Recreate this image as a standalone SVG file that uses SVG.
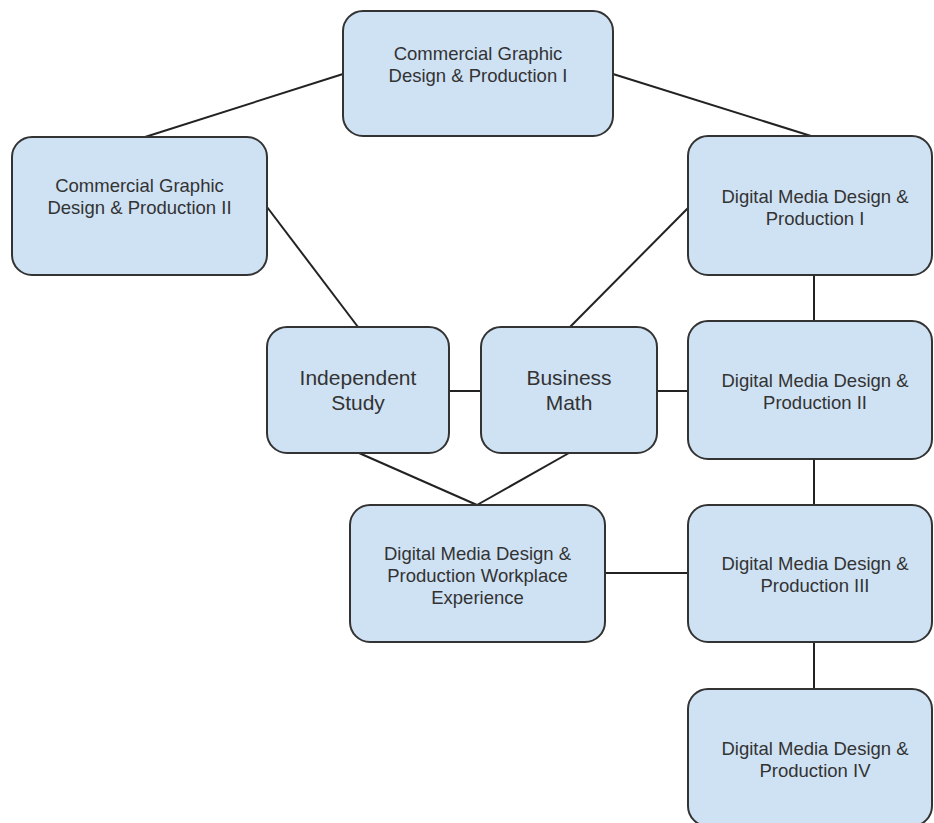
<svg xmlns="http://www.w3.org/2000/svg" width="934" height="823" viewBox="0 0 934 823">
<style>
.box{fill:#cfe2f3;stroke:#333;stroke-width:2}
.t{font-family:"Liberation Sans",Arial,sans-serif;font-size:18.5px;fill:#333;text-anchor:middle}
.tl{font-family:"Liberation Sans",Arial,sans-serif;font-size:21px;fill:#333;text-anchor:middle}
.c{stroke:#222;stroke-width:2;fill:none}
</style>
<rect width="934" height="823" fill="#fff"/>
<g id="connectors">
<line class="c" x1="343" y1="74" x2="145" y2="137"/>
<line class="c" x1="613" y1="74" x2="811" y2="136"/>
<line class="c" x1="267" y1="207" x2="358" y2="327"/>
<line class="c" x1="688" y1="208" x2="570" y2="327"/>
<line class="c" x1="814" y1="275" x2="814" y2="321"/>
<line class="c" x1="449" y1="391" x2="481" y2="391"/>
<line class="c" x1="657" y1="391" x2="688" y2="391"/>
<line class="c" x1="359" y1="453" x2="477" y2="505"/>
<line class="c" x1="569" y1="453" x2="477" y2="505"/>
<line class="c" x1="814" y1="459" x2="814" y2="505"/>
<line class="c" x1="605" y1="573" x2="688" y2="573"/>
<line class="c" x1="814" y1="642" x2="814" y2="689"/>
</g>
<g id="cgd1">
<rect class="box" x="343" y="11" width="270" height="125" rx="20"/>
<text class="t" x="478" y="60">Commercial Graphic</text>
<text class="t" x="478" y="82">Design &amp; Production I</text>
</g>
<g id="cgd2">
<rect class="box" x="12" y="137" width="255" height="138" rx="20"/>
<text class="t" x="139.5" y="192">Commercial Graphic</text>
<text class="t" x="139.5" y="214">Design &amp; Production II</text>
</g>
<g id="dmd1">
<rect class="box" x="688" y="136" width="244" height="139" rx="20"/>
<text class="t" x="815" y="203">Digital Media Design &amp;</text>
<text class="t" x="815" y="225">Production I</text>
</g>
<g id="independent">
<rect class="box" x="267" y="327" width="182" height="126" rx="20"/>
<text class="tl" x="358" y="385">Independent</text>
<text class="tl" x="358" y="410">Study</text>
</g>
<g id="bizmath">
<rect class="box" x="481" y="327" width="176" height="126" rx="20"/>
<text class="tl" x="569" y="385">Business</text>
<text class="tl" x="569" y="410">Math</text>
</g>
<g id="dmd2">
<rect class="box" x="688" y="321" width="244" height="138" rx="20"/>
<text class="t" x="815" y="387">Digital Media Design &amp;</text>
<text class="t" x="815" y="409">Production II</text>
</g>
<g id="workplace">
<rect class="box" x="350" y="505" width="255" height="137" rx="20"/>
<text class="t" x="477.5" y="560">Digital Media Design &amp;</text>
<text class="t" x="477.5" y="582">Production Workplace</text>
<text class="t" x="477.5" y="604">Experience</text>
</g>
<g id="dmd3">
<rect class="box" x="688" y="505" width="244" height="137" rx="20"/>
<text class="t" x="815" y="570">Digital Media Design &amp;</text>
<text class="t" x="815" y="592">Production III</text>
</g>
<g id="dmd4">
<rect class="box" x="688" y="689" width="244" height="137" rx="20"/>
<text class="t" x="815" y="755">Digital Media Design &amp;</text>
<text class="t" x="815" y="777">Production IV</text>
</g>
</svg>
